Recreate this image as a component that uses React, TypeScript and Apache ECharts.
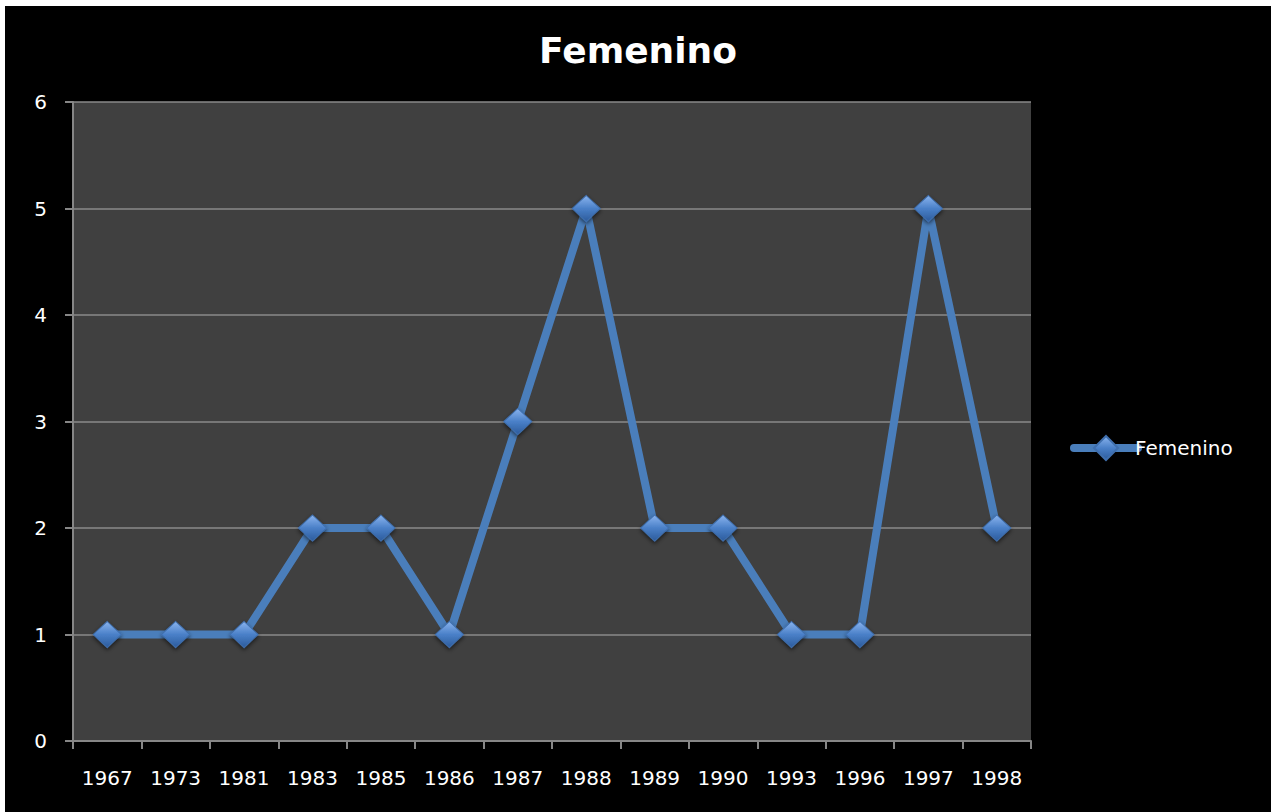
import React, { useEffect, useRef } from "react";
import * as echarts from "echarts";

const categories = ["1967", "1973", "1981", "1983", "1985", "1986", "1987", "1988", "1989", "1990", "1993", "1996", "1997", "1998"];
const femenino = [1, 1, 1, 2, 2, 1, 3, 5, 2, 2, 1, 1, 5, 2];
const seriesName = "Femenino";
const titleText = "Femenino";

const FONT = "DejaVu Sans";

export default function App() {
  const ref = useRef<HTMLDivElement>(null);
  useEffect(() => {
    document.body.style.margin = "0";
    document.body.style.background = "#ffffff";
    const chart = echarts.init(ref.current!, null, { renderer: "svg" });
    const markerGrad = new echarts.graphic.LinearGradient(0, 0, 0, 1, [
      { offset: 0, color: "#8ab4ee" },
      { offset: 0.5, color: "#4a80c8" },
      { offset: 1, color: "#2c5b9c" },
    ]);
    chart.setOption({
      animation: false,
      backgroundColor: "#000000",
      title: {
        text: titleText,
        left: "center",
        top: 21,
        textStyle: { color: "#ffffff", fontFamily: FONT, fontWeight: "bold", fontSize: 36 },
      },
      legend: {
        data: [seriesName],
        left: 1060,
        top: 424,
        orient: "vertical",
        itemWidth: 64,
        itemHeight: 30,
        itemGap: 4,
        lineStyle: { width: 8, cap: "round" },
        textStyle: { color: "#ffffff", fontFamily: FONT, fontSize: 20, padding: [0, 0, 0, -8] },
      },
      grid: { left: 68, top: 96, right: 240, bottom: 71, containLabel: false, show: true, backgroundColor: "#404040", borderWidth: 0 },
      xAxis: {
        type: "category",
        data: categories,
        boundaryGap: true,
        axisLine: { show: true, lineStyle: { color: "#868686", width: 2 } },
        axisTick: { show: true, interval: 0, length: 8, inside: false, lineStyle: { color: "#868686", width: 2 } },
        axisLabel: { interval: 0, hideOverlap: false, color: "#ffffff", fontFamily: FONT, fontSize: 20, margin: 27 },
        splitLine: { show: false },
      },
      yAxis: {
        type: "value",
        min: 0,
        max: 6,
        interval: 1,
        axisLine: { show: true, lineStyle: { color: "#868686", width: 2 } },
        axisTick: { show: true, length: 8, lineStyle: { color: "#868686", width: 2 } },
        axisLabel: { color: "#ffffff", fontFamily: FONT, fontSize: 20, margin: 26 },
        splitLine: { show: true, lineStyle: { color: "#8a8a8a", width: 1.5 } },
      },
      series: [
        {
          name: seriesName,
          type: "line",
          data: femenino,
          symbol: "diamond",
          symbolSize: [28, 26],
          lineStyle: { color: "#4a7ebb", width: 8 },
          itemStyle: {
            color: markerGrad,
            borderColor: "#3f6fae",
            borderWidth: 1,
            shadowBlur: 4,
            shadowColor: "rgba(0,0,0,0.6)",
            shadowOffsetY: 2,
          },
        },
      ],
    });
    return () => chart.dispose();
  }, []);
  return (
    <div
      ref={ref}
      style={{ position: "absolute", left: 5, top: 6, width: 1266, height: 806 }}
    />
  );
}
